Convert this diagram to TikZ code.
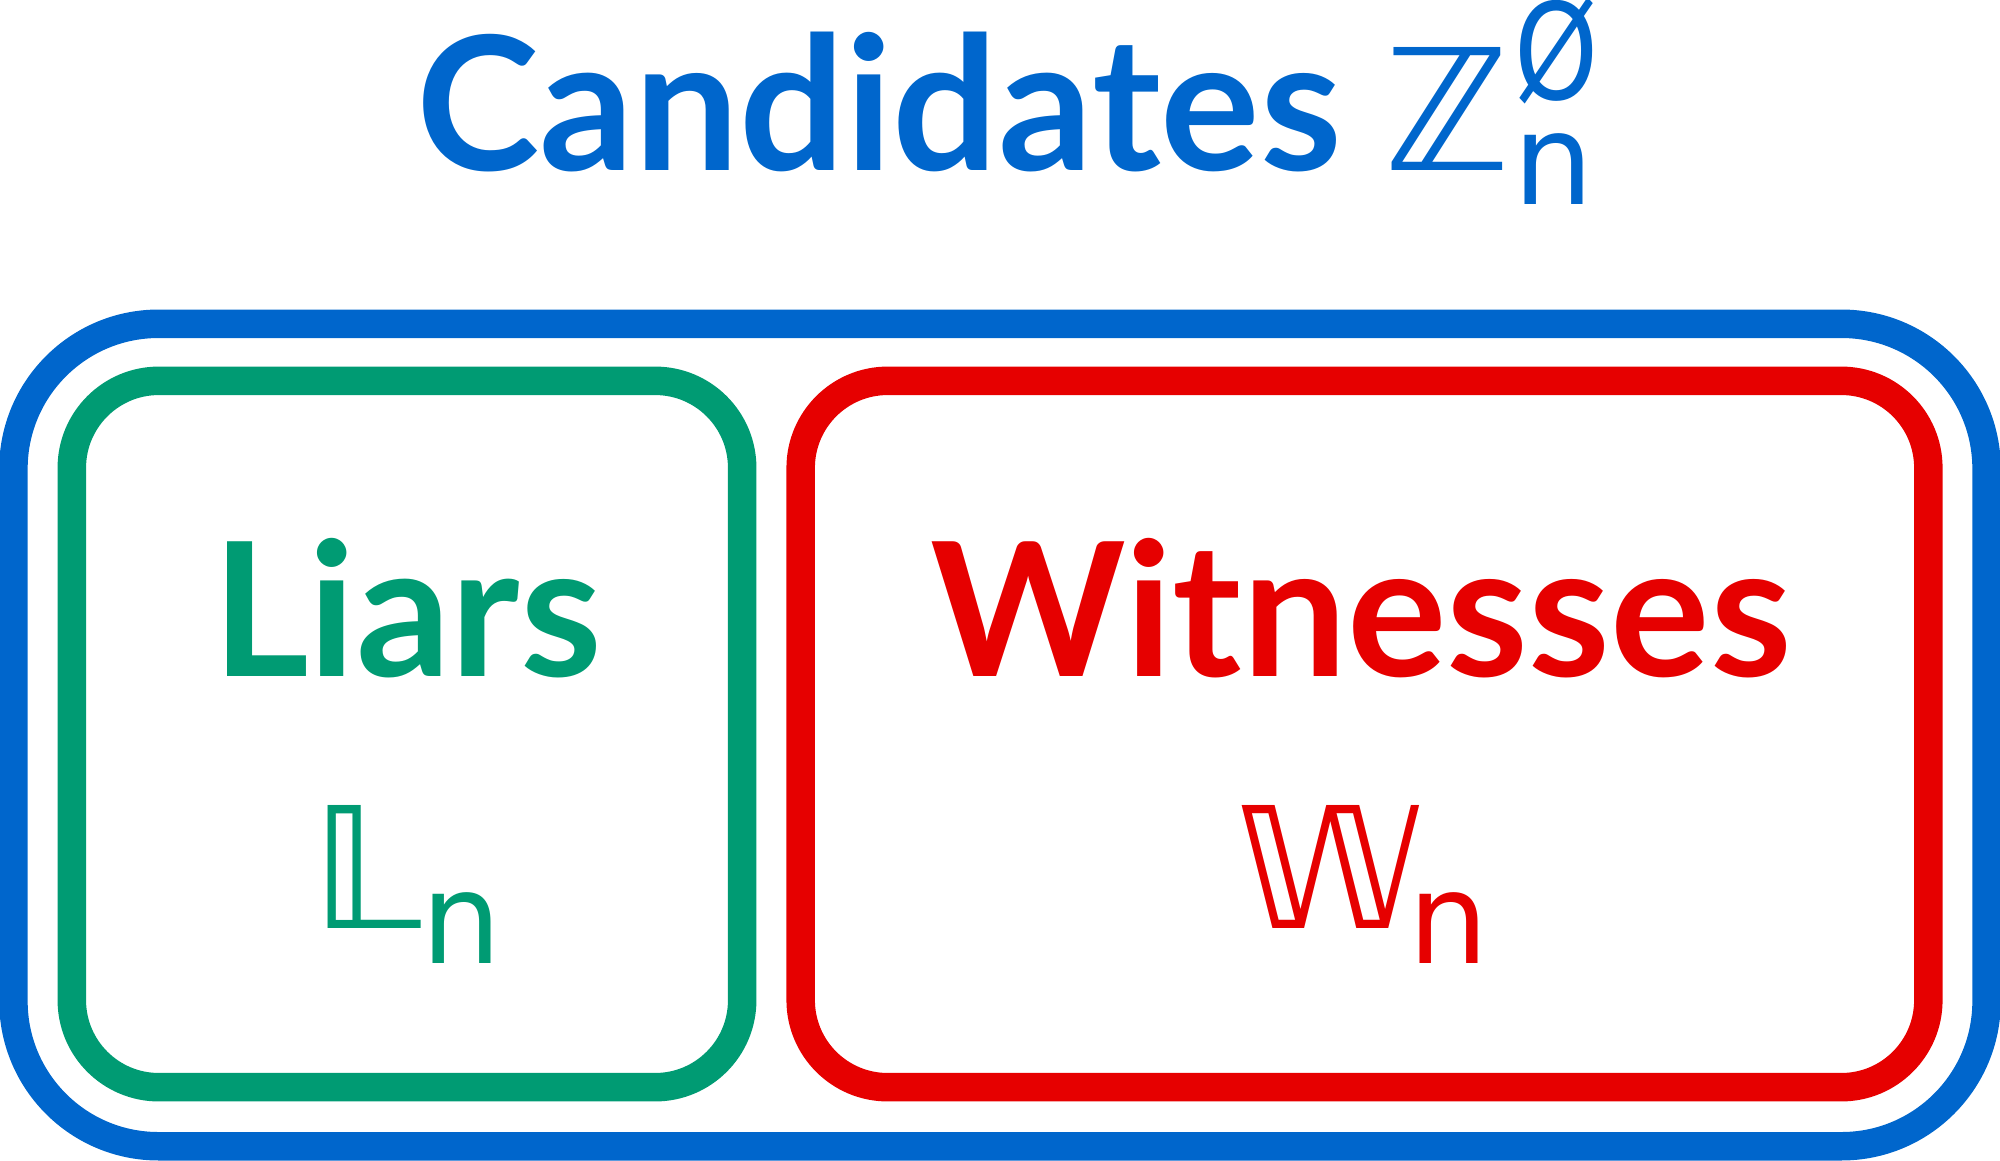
\documentclass[tikz,border=0pt]{standalone}
\usepackage{fontspec}
\usepackage{tikz}
\setmainfont{Lato}
\newfontfamily\dvs{DejaVu Sans}
\definecolor{candblue}{RGB}{0,102,204}
\definecolor{liargreen}{RGB}{0,155,115}
\definecolor{witnessred}{RGB}{230,0,0}
\tikzset{
    setbox/.style={draw=#1, rectangle, line width=8.1pt, inner sep=0pt},
    bigword/.style={text=#1, inner sep=0pt, anchor=base, font=\bfseries\fontsize{53}{60}\selectfont},
    setsym/.style={text=#1, inner sep=0pt, anchor=base, font=\dvs\fontsize{48}{56}\selectfont},
    setidx/.style={text=#1, inner sep=0pt, anchor=base, font=\dvs\fontsize{36}{42}\selectfont}
}

\begin{document}
\begin{tikzpicture}[x=0.01cm, y=-0.01cm]
    \useasboundingbox (0,0) rectangle (2000,1160);
    \node[setbox=candblue, rounded corners=1.45cm, minimum width=19.72cm, minimum height=8.22cm] (cands) at (1000,735) {};
    \node[setbox=liargreen, rounded corners=0.87cm, minimum width=6.70cm, minimum height=7.06cm] (liars) at (407,734) {};
    \node[setbox=witnessred, rounded corners=0.87cm, minimum width=11.27cm, minimum height=7.06cm] (wits) at (1364.5,734) {};
    \node[bigword=candblue] (candtitle) at (879,170) {Candidates};
    \node[setsym=candblue] (zsym) at (1447,170) {ℤ};
    \node[setidx=candblue, font=\dvs\fontsize{38}{44}\selectfont] (zsup) at (1557,99) {\scalebox{0.8}[1]{Ø}};
    \node[setidx=candblue] (zsub) at (1554,204) {n};
    \node[bigword=liargreen] (liartitle) at (407,676) {Liars};
    \node[setsym=liargreen] (lsym) at (367,928) {𝕃};
    \node[setidx=liargreen] (lsub) at (462,963) {n};
    \node[bigword=witnessred] (wittitle) at (1361,676) {Witnesses};
    \node[setsym=witnessred] (wsym) at (1330,928) {𝕎};
    \node[setidx=witnessred] (wsub) at (1449,963) {n};
\end{tikzpicture}
\end{document}
